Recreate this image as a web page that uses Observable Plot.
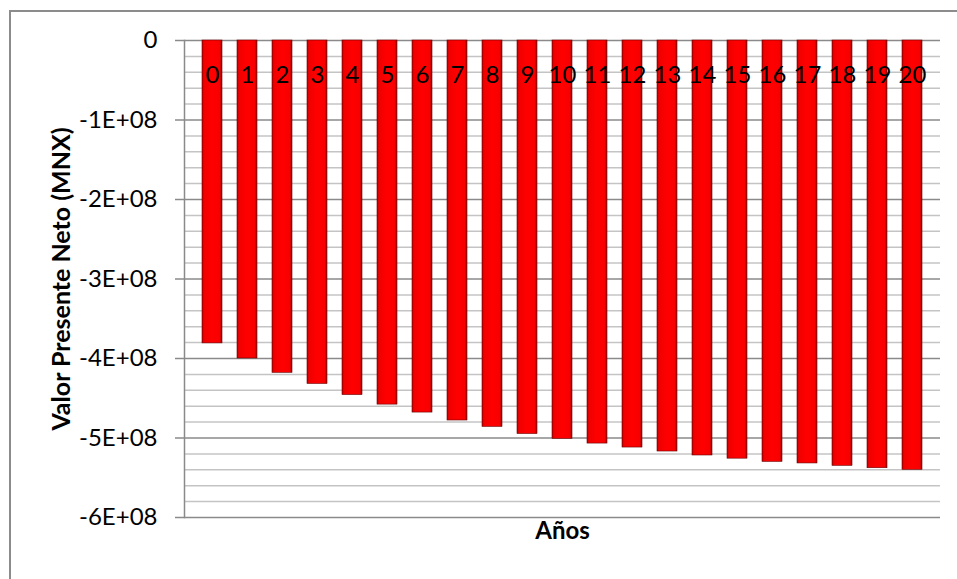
<!DOCTYPE html>
<html>
<head>
<meta charset="utf-8">
<script src="https://cdn.jsdelivr.net/npm/d3@7"></script>
<script src="https://cdn.jsdelivr.net/npm/@observablehq/plot@0.6"></script>
<style>
  html, body { margin: 0; padding: 0; background: #fff; }
  #wrap { position: relative; width: 957px; height: 579px; overflow: hidden; }
  #border { position: absolute; left: 9px; top: 10px; width: 960px; height: 580px;
            border-left: 2px solid #8c8c8c; border-top: 2px solid #8c8c8c; }
  #chart { position: absolute; left: 0; top: 0; }
</style>
</head>
<body>
<div id="wrap"><div id="border"></div><div id="chart"></div></div>
<script>
// Years (categories)
const years = ["0","1","2","3","4","5","6","7","8","9","10","11","12","13","14","15","16","17","18","19","20"];
// Net present value (MXN)
const values = [-3.81e8, -4.00e8, -4.18e8, -4.32e8, -4.46e8, -4.58e8, -4.68e8, -4.78e8, -4.86e8, -4.95e8,
                -5.01e8, -5.07e8, -5.12e8, -5.17e8, -5.22e8, -5.26e8, -5.30e8, -5.32e8, -5.35e8, -5.38e8, -5.40e8];
// Axis ticks
const yTicks = [0, -1e8, -2e8, -3e8, -4e8, -5e8, -6e8];
const yTickLabels = ["0", "-1E+08", "-2E+08", "-3E+08", "-4E+08", "-5E+08", "-6E+08"];
const minorTicks = d3.range(0, -6e8, -2e7).filter(v => v % 1e8 !== 0);
const yTitle = "Valor Presente Neto (MNX)";
const xTitle = "Años";

const data = years.map((y, i) => ({year: y, value: values[i]}));

const chart = Plot.plot({
  width: 957,
  height: 579,
  marginLeft: 184,
  marginRight: 17,
  marginTop: 40,
  marginBottom: 62,
  style: {fontFamily: "Lato, 'Open Sans', sans-serif", fontSize: "24px", color: "#000", background: "transparent"},
  x: {domain: years, padding: 0.44, axis: null},
  y: {domain: [-6e8, 0], axis: null},
  marks: [
    Plot.ruleY(minorTicks, {stroke: "#c4c4c4", strokeWidth: 1.5, strokeOpacity: 1}),
    Plot.ruleY(yTicks, {stroke: "#8a8a8a", strokeWidth: 1.5, strokeOpacity: 1}),
    Plot.frame({anchor: "left", stroke: "#8a8a8a", strokeWidth: 1.5}),
    Plot.axisY({
      ticks: yTicks,
      tickFormat: d => yTickLabels[yTicks.indexOf(d)],
      tickSize: 9,
      tickPadding: 18,
      label: null,
      stroke: "#8a8a8a",
      strokeWidth: 1.5,
      fontSize: 24,
      fill: "#000"
    }),
    Plot.barY(data, {x: "year", y: "value", fill: "url(#barGrad)", stroke: "#6a0000", strokeWidth: 0.6}),
    Plot.text(data, {x: "year", y: () => 0, text: "year", dy: 35, fontSize: 24, fill: "#000"}),
    Plot.text([yTitle], {text: d => d, frameAnchor: "left", textAnchor: "middle", dx: -123, rotate: -90, fontSize: 25, fontWeight: "bold", fill: "#000"}),
    Plot.text([xTitle], {text: d => d, frameAnchor: "bottom", dy: 21, fontSize: 24, fontWeight: "bold", fill: "#000"})
  ]
});

d3.select(chart).insert("defs", ":first-child").html(`
  <linearGradient id="barGrad" x1="0" x2="1" y1="0" y2="0">
    <stop offset="0" stop-color="#b00000"/>
    <stop offset="0.1" stop-color="#f00000"/>
    <stop offset="0.5" stop-color="#ff0000"/>
    <stop offset="0.88" stop-color="#f80000"/>
    <stop offset="1" stop-color="#9a0000"/>
  </linearGradient>`);

document.getElementById("chart").appendChild(chart);
</script>
</body>
</html>
